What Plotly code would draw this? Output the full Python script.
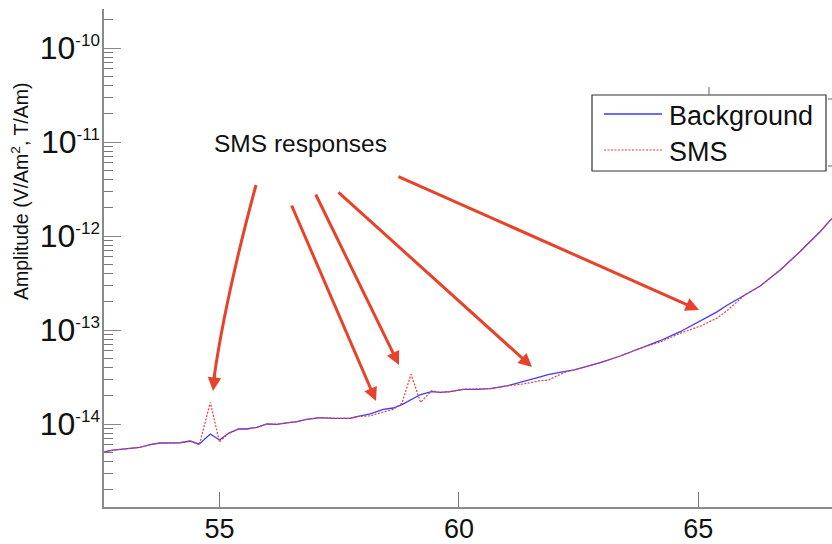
import plotly.graph_objects as go

# Frequency axis values and the two amplitude spectra
freq = [52.59, 52.78, 53.34, 53.55, 53.76, 54.18, 54.39, 54.58, 54.81, 55.00,
        55.19, 55.40, 55.57, 55.78, 55.99, 56.20, 56.41, 56.62, 56.82, 57.10,
        57.38, 57.73, 57.87, 58.15, 58.42, 58.63, 58.81, 59.00, 59.20, 59.43,
        59.61, 59.82, 60.09, 60.37, 60.65, 61.00, 61.35, 61.70, 61.86, 62.04,
        62.25, 62.39, 62.53, 62.95, 63.37, 63.78, 64.20, 64.62, 65.04, 65.38,
        65.59, 65.80, 65.97, 66.29, 66.71, 67.12, 67.54, 67.79]

background = [5.04e-15, 5.28e-15, 5.65e-15, 6.02e-15, 6.28e-15, 6.32e-15, 6.59e-15, 6.12e-15, 7.83e-15, 6.76e-15,
              7.96e-15, 8.85e-15, 8.85e-15, 9.22e-15, 1.00e-14, 9.93e-15, 1.03e-14, 1.06e-14, 1.12e-14, 1.17e-14,
              1.15e-14, 1.15e-14, 1.20e-14, 1.28e-14, 1.43e-14, 1.48e-14, 1.61e-14, 1.82e-14, 2.06e-14, 2.21e-14,
              2.17e-14, 2.21e-14, 2.34e-14, 2.34e-14, 2.38e-14, 2.54e-14, 2.82e-14, 3.18e-14, 3.36e-14, 3.52e-14,
              3.66e-14, 3.75e-14, 3.92e-14, 4.49e-14, 5.29e-14, 6.38e-14, 7.69e-14, 9.59e-14, 1.26e-13, 1.55e-13,
              1.82e-13, 2.08e-13, 2.36e-13, 2.94e-13, 4.35e-13, 6.81e-13, 1.11e-12, 1.54e-12]

sms = [5.04e-15, 5.28e-15, 5.65e-15, 6.02e-15, 6.28e-15, 6.32e-15, 6.59e-15, 5.98e-15, 1.70e-14, 6.44e-15,
       7.96e-15, 8.85e-15, 8.85e-15, 9.22e-15, 1.00e-14, 9.93e-15, 1.03e-14, 1.06e-14, 1.12e-14, 1.17e-14,
       1.15e-14, 1.15e-14, 1.20e-14, 1.22e-14, 1.34e-14, 1.43e-14, 1.66e-14, 3.38e-14, 1.70e-14, 2.26e-14,
       2.17e-14, 2.21e-14, 2.34e-14, 2.34e-14, 2.38e-14, 2.54e-14, 2.67e-14, 2.89e-14, 2.92e-14, 3.24e-14,
       3.60e-14, 3.75e-14, 3.92e-14, 4.49e-14, 5.29e-14, 6.38e-14, 7.45e-14, 9.22e-14, 1.10e-13, 1.33e-13,
       1.59e-13, 1.99e-13, 2.36e-13, 2.94e-13, 4.35e-13, 6.81e-13, 1.11e-12, 1.54e-12]

x_ticks = [55, 60, 65]
y_ticks = [1e-14, 1e-13, 1e-12, 1e-11, 1e-10]
y_exponents = ["-14", "-13", "-12", "-11", "-10"]
y_ticktext = [f"10<sup><span style='font-size:17px'>{e}</span></sup>" for e in y_exponents]
y_minor = [m * 10.0 ** e for e in range(-15, -9) for m in range(2, 10)]

FONT = "Liberation Sans, Arial, Helvetica, sans-serif"
ARROW = "#e8432a"
AXIS = "#8a8a8a"

# Canvas and plot-area geometry (pixels)
W, H = 832, 544
ML, MR, MT, MB = 104, 0, 9, 37


def paper(xp, yp):
    """Convert a canvas pixel position to paper coordinates."""
    return (xp - ML) / (W - ML - MR), (H - MB - yp) / (H - MT - MB)


fig = go.Figure()
fig.add_trace(go.Scatter(x=freq, y=background, mode="lines", name="Background",
                         line=dict(color="#3a3aff", width=1.3), showlegend=False))
fig.add_trace(go.Scatter(x=freq, y=sms, mode="lines", name="SMS",
                         line=dict(color="#f03a3a", width=1.2, dash="2px,1.5px"),
                         showlegend=False))

shapes = []
annotations = []

# Straight pointer arrows: (tip x, tip y, tail x, tail y) in pixels
arrows = [
    (376, 401, 291, 204),
    (399, 365, 315, 193),
    (532, 367, 337, 191),
    (699, 310, 397, 176),
]
for tx, ty, sx, sy in arrows:
    px_, py_ = paper(tx, ty)
    annotations.append(dict(x=px_, y=py_, xref="paper", yref="paper", text="",
                            showarrow=True, arrowhead=2, arrowsize=0.9,
                            arrowwidth=3, arrowcolor=ARROW, standoff=0,
                            ax=sx - tx, ay=sy - ty))

# Curved arrow toward the first response
p0 = paper(256, 185)
pc = paper(225, 300)
p1 = paper(214, 378)
shapes.append(dict(type="path", xref="paper", yref="paper",
                   path=f"M {p0[0]},{p0[1]} Q {pc[0]},{pc[1]} {p1[0]},{p1[1]}",
                   line=dict(color=ARROW, width=3)))
tip = paper(213, 391)
annotations.append(dict(x=tip[0], y=tip[1], xref="paper", yref="paper", text="",
                        showarrow=True, arrowhead=2, arrowsize=0.9, arrowwidth=3,
                        arrowcolor=ARROW, standoff=0, ax=2, ay=-18))

# Callout text
cx, cy = paper(300, 143)
annotations.append(dict(x=cx, y=cy, xref="paper", yref="paper",
                        xanchor="center", yanchor="middle",
                        text="SMS responses", showarrow=False,
                        font=dict(family=FONT, size=24.5, color="#111111")))

# Y-axis title
tx_, ty_ = paper(20, 192)
annotations.append(dict(x=tx_, y=ty_, xref="paper", yref="paper",
                        xanchor="center", yanchor="middle",
                        text="Amplitude (V/Am<sup>2</sup>, T/Am)", textangle=-90,
                        showarrow=False, font=dict(family=FONT, size=19.5, color="#111111")))

# Legend box
b0 = paper(592, 95)
b1 = paper(826, 171)
shapes.append(dict(type="rect", xref="paper", yref="paper",
                   x0=b0[0], y0=b1[1], x1=b1[0], y1=b0[1],
                   line=dict(color="#333333", width=1.2), fillcolor="white"))
l0 = paper(604, 114)
l1 = paper(662, 114)
shapes.append(dict(type="line", xref="paper", yref="paper",
                   x0=l0[0], y0=l0[1], x1=l1[0], y1=l1[1],
                   line=dict(color="#3a3aff", width=1.3)))
r0 = paper(604, 150)
r1 = paper(662, 150)
shapes.append(dict(type="line", xref="paper", yref="paper",
                   x0=r0[0], y0=r0[1], x1=r1[0], y1=r1[1],
                   line=dict(color="#f03a3a", width=1.2, dash="2px,1.5px")))
for label, yy in (("Background", 116), ("SMS", 152)):
    lx, ly = paper(667, yy)
    annotations.append(dict(x=lx, y=ly, xref="paper", yref="paper", text=label,
                            xanchor="left", yanchor="middle", showarrow=False,
                            font=dict(family=FONT, size=27, color="#111111")))

# Small tick marks around the legend frame
for (xa, ya, xb, yb) in ((709, 87, 709, 95), (828, 99, 832, 99), (828, 166, 832, 166)):
    a = paper(xa, ya)
    b = paper(xb, yb)
    shapes.append(dict(type="line", xref="paper", yref="paper",
                       x0=a[0], y0=a[1], x1=b[0], y1=b[1],
                       line=dict(color="#666666", width=1)))

fig.update_layout(
    width=W, height=H,
    margin=dict(l=ML, r=MR, t=MT, b=MB, pad=0, autoexpand=False),
    paper_bgcolor="white", plot_bgcolor="white",
    font=dict(family=FONT, color="#111111"),
    shapes=shapes, annotations=annotations,
    showlegend=False,
    xaxis=dict(range=[52.59, 67.79], showgrid=False, zeroline=False, automargin=False,
               showline=True, linecolor=AXIS, linewidth=1.5,
               ticks="inside", ticklen=15, tickwidth=1, tickcolor="#777777",
               tickvals=x_ticks, ticktext=[str(v) for v in x_ticks],
               tickfont=dict(family=FONT, size=27, color="#111111"),
               ticklabelstandoff=-3),
    yaxis=dict(type="log", range=[-14.883, -9.585], showgrid=False, zeroline=False,
               automargin=False,
               showline=True, linecolor=AXIS, linewidth=1.5,
               ticks="inside", ticklen=17, tickwidth=1, tickcolor="#888888",
               tickvals=y_ticks, ticktext=y_ticktext,
               tickfont=dict(family=FONT, size=32, color="#111111"),
               ticklabelstandoff=-4,
               minor=dict(ticks="inside", ticklen=9, tickwidth=1, tickcolor="#777777",
                          tickvals=y_minor, showgrid=False)),
)

fig.write_html("out.html")
